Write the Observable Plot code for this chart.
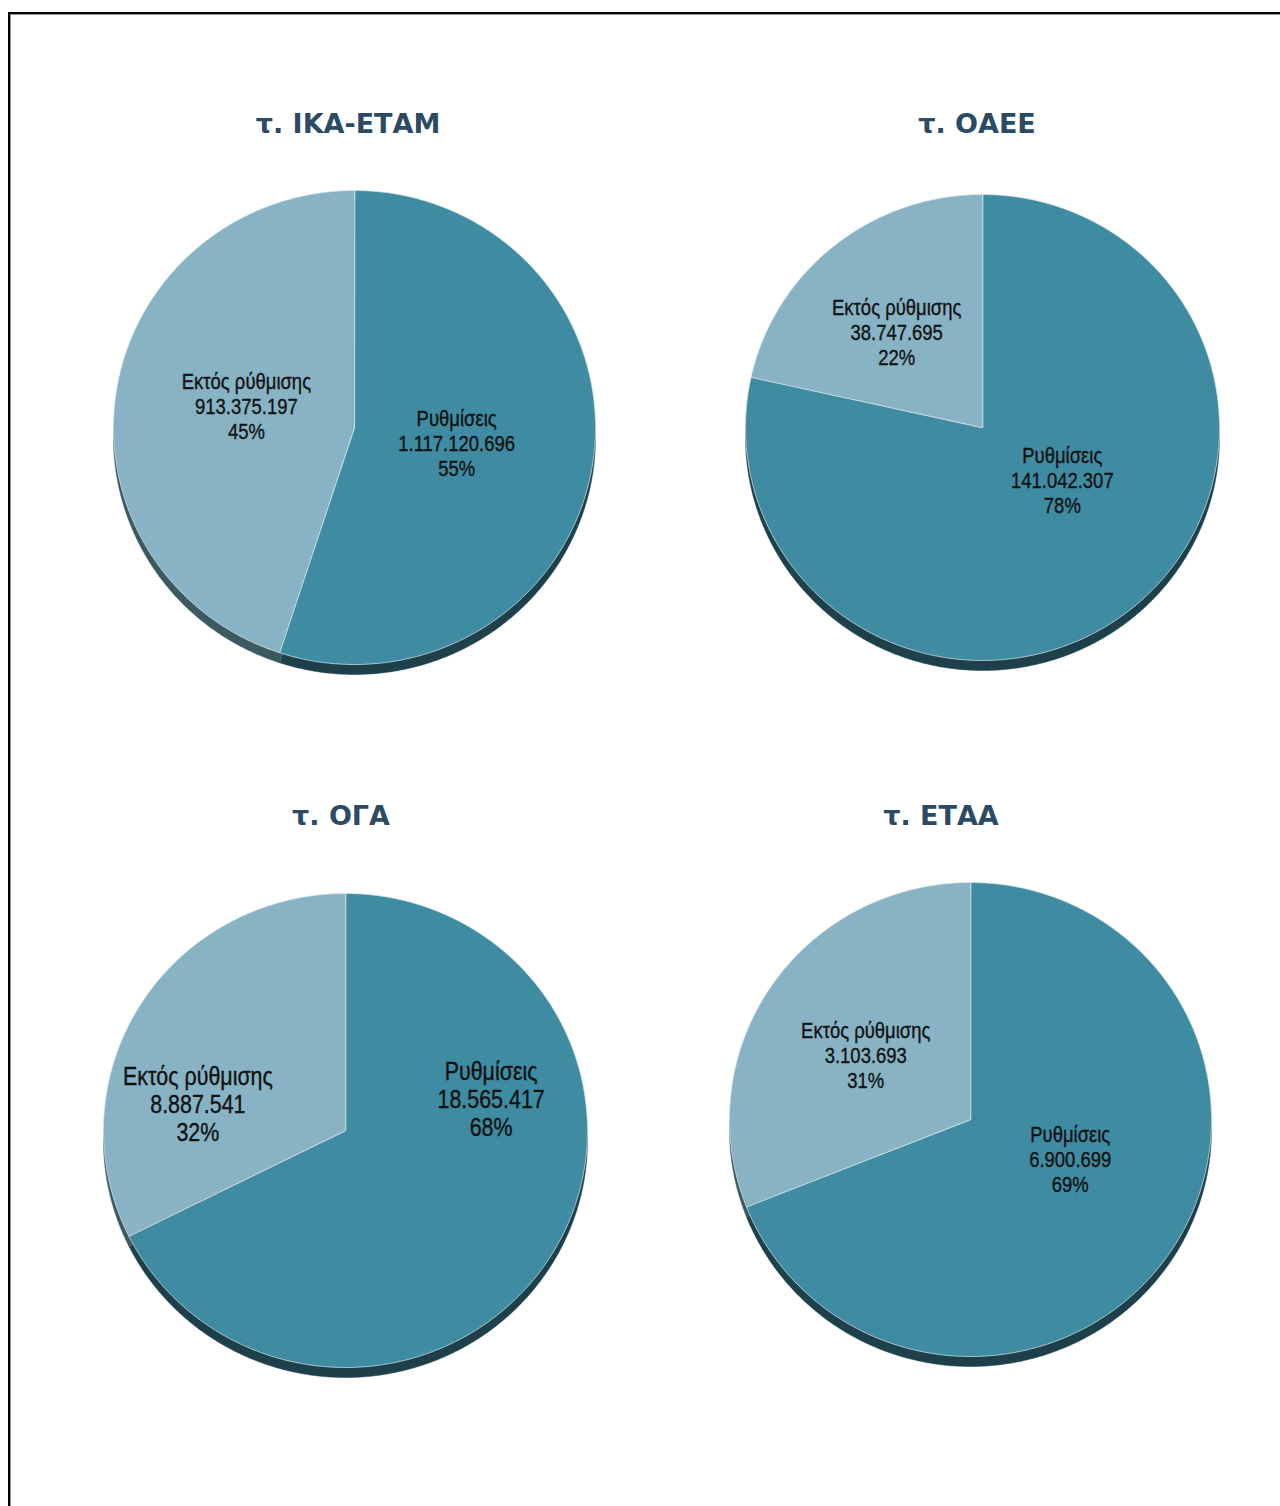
<!DOCTYPE html>
<html>
<head>
<meta charset="utf-8">
<script src="https://cdn.jsdelivr.net/npm/d3@7"></script>
<script src="https://cdn.jsdelivr.net/npm/@observablehq/plot@0.6"></script>
<style>
  html, body { margin: 0; padding: 0; background: #fff; }
  #page { position: relative; width: 1280px; height: 1506px; overflow: hidden; background: #fff; }
  #frame { position: absolute; left: 8px; top: 12px; width: 1300px; height: 1600px;
           border-top: 2px solid #000; border-left: 2px solid #000; box-sizing: border-box;
           box-shadow: inset 1px 1px 0 #999; }
  .title { position: absolute; transform: translateX(-50%); white-space: nowrap;
           font-family: "DejaVu Sans", Verdana, sans-serif; font-weight: bold; font-size: 27px;
           line-height: 27px; color: #2b4a63; }
  .pie { position: absolute; }
  .pie svg { background: transparent !important; overflow: visible; }
</style>
</head>
<body>
<div id="page"><div id="frame"></div></div>
<script>
// ---------------- data ----------------
const funds = ["τ. ΙΚΑ-ΕΤΑΜ", "τ. ΟΑΕΕ", "τ. ΟΓΑ", "τ. ΕΤΑΑ"];
const categories = ["Ρυθμίσεις", "Εκτός ρύθμισης"];
const settled = [1117120696, 141042307, 18565417, 6900699];     // Ρυθμίσεις
const unsettled = [913375197, 38747695, 8887541, 3103693];      // Εκτός ρύθμισης

// ---------------- layout / style ----------------
const layout = [
  {cx: 354, cy: 427, rx: 241, ry: 237, tx: 348, ty: 110, font: 22, lh: 1.14, nudge: [[-5, -1], [-1, -5]]},
  {cx: 982, cy: 427, rx: 237, ry: 233, tx: 977, ty: 110, font: 22, lh: 1.14, nudge: [[13, -29], [-19, -14]]},
  {cx: 345, cy: 1130, rx: 242, ry: 237, tx: 341, ty: 802, font: 25.5, lh: 1.1, nudge: [[53, -88], [-55, 30]]},
  {cx: 970, cy: 1119, rx: 241, ry: 237, tx: 941, ty: 802, font: 22, lh: 1.14, nudge: [[10, -20], [-15, -5]]}
];
const faceColors = ["#3f8ba2", "#87b3c4"];
const rimColors = ["#1e404b", "#3c5960"];
const RIM = 10, SHADOW = 13, LABEL_R = 0.45, BOX = 560, NARROW = 0.84;

const fmt = v => d3.format(",")(v).replace(/,/g, ".");

function arcPoints(a0, a1, dy, slice, withCenter) {
  const pts = [];
  if (withCenter) pts.push({x: 0, y: dy, slice});
  const n = Math.max(2, Math.ceil((a1 - a0) / (Math.PI / 360)));
  for (let i = 0; i <= n; i++) {
    const a = a0 + (a1 - a0) * i / n;
    pts.push({x: Math.sin(a), y: -Math.cos(a) + dy, slice});
  }
  return pts;
}

const page = document.getElementById("page");

funds.forEach((fund, i) => {
  const L = layout[i];
  const values = [settled[i], unsettled[i]];
  const total = d3.sum(values);
  const arcs = d3.pie().sort(null).startAngle(0).endAngle(2 * Math.PI)(values);

  const rimDy = RIM / L.ry, shDy = SHADOW / L.ry;
  const shadowPts = arcPoints(0, 2 * Math.PI, shDy, 0, false);
  const rimPts = [], facePts = [];
  arcs.forEach((a, k) => {
    rimPts.push(...arcPoints(a.startAngle, a.endAngle, rimDy, k, true));
    facePts.push(...arcPoints(a.startAngle, a.endAngle, 0, k, true));
  });

  const labelMarks = arcs.map((a, k) => {
    const mid = (a.startAngle + a.endAngle) / 2;
    const d = [{
      x: LABEL_R * Math.sin(mid),
      y: -LABEL_R * Math.cos(mid),
      text: `${categories[k]}\n${fmt(values[k])}\n${Math.round(values[k] / total * 100)}%`
    }];
    return Plot.text(d, {
      x: "x", y: "y", text: "text",
      dx: L.nudge[k][0], dy: L.nudge[k][1],
      fontSize: L.font, lineHeight: L.lh, lineAnchor: "middle", textAnchor: "middle",
      fill: "#111", stroke: "#111", strokeWidth: 0.35,
      fontFamily: "'Liberation Sans Narrow', 'Arial Narrow', 'Liberation Sans', Arial, sans-serif"
    });
  });

  const h = BOX / 2;
  const chart = Plot.plot({
    width: BOX, height: BOX,
    margin: 0,
    x: {domain: [-1, 1], range: [h - L.rx, h + L.rx], axis: null},
    y: {domain: [-1, 1], range: [h - L.ry, h + L.ry], axis: null},
    color: {type: "identity"},
    marks: [
      Plot.line(shadowPts, {x: "x", y: "y", fill: "#8a8a8a", stroke: "none", fillOpacity: 0.55, ariaLabel: "shadow", curve: "linear-closed"}),
      Plot.line(rimPts, {x: "x", y: "y", z: "slice", fill: d => rimColors[d.slice], stroke: d => rimColors[d.slice], strokeWidth: 0.5, curve: "linear-closed"}),
      Plot.line(facePts, {x: "x", y: "y", z: "slice", fill: d => faceColors[d.slice], stroke: "#dbe8ec", strokeWidth: 0.9, strokeOpacity: 0.8, curve: "linear-closed"}),
      ...labelMarks
    ]
  });
  d3.select(chart).selectAll("g[aria-label=shadow]").style("filter", "blur(3px)");
  // condense label glyphs to mimic a narrow typeface
  d3.select(chart).selectAll("g[aria-label=text] text").each(function() {
    const el = this;
    const tr = el.getAttribute("transform") || "";
    const x = +(el.getAttribute("x") || 0), y = +(el.getAttribute("y") || 0);
    el.removeAttribute("x"); el.removeAttribute("y");
    el.setAttribute("transform", `${tr} translate(${x},${y}) scale(${NARROW},1)`);
  });

  const wrap = document.createElement("div");
  wrap.className = "pie";
  wrap.style.left = (L.cx - h) + "px";
  wrap.style.top = (L.cy - h) + "px";
  wrap.appendChild(chart);
  page.appendChild(wrap);

  const t = document.createElement("div");
  t.className = "title";
  t.textContent = fund;
  t.style.left = L.tx + "px";
  t.style.top = L.ty + "px";
  page.appendChild(t);
});
</script>
</body>
</html>
